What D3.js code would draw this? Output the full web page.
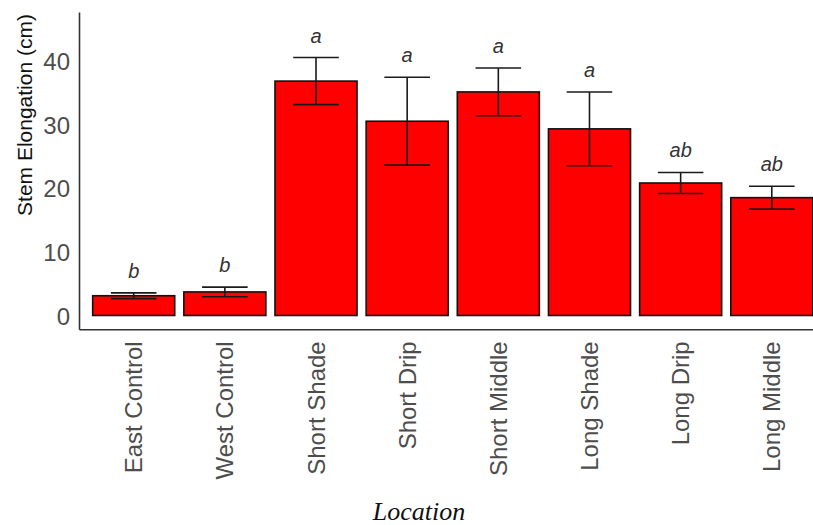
<!DOCTYPE html>
<html>
<head>
<meta charset="utf-8">
<script src="https://cdn.jsdelivr.net/npm/d3@7"></script>
<style>
    html, body { margin: 0; padding: 0; background: #fff; }
    svg { display: block; }
</style>
</head>
<body>
<svg id="chart" width="813" height="525"></svg>
<script>
// data
const locations = ['East Control', 'West Control', 'Short Shade', 'Short Drip',
    'Short Middle', 'Long Shade', 'Long Drip', 'Long Middle']
const meanElongation = [3.1, 3.7, 36.8, 30.5, 35.1, 29.3, 20.8, 18.5]
const seElongation = [0.45, 0.75, 3.7, 6.9, 3.75, 5.8, 1.65, 1.8]
const groupLetters = ['b', 'b', 'a', 'a', 'a', 'a', 'ab', 'ab']
const yTicks = [0, 10, 20, 30, 40]

const data = locations.map((loc, i) => ({
    location: loc,
    mean: meanElongation[i],
    se: seElongation[i],
    letter: groupLetters[i],
}))

const panelLeft = 79
const panelTop = 12
const panelBottom = 329.3
const panelRight = 826.5 // panel runs a little past the picture edge

const svg = d3.select('#chart')

const xScale = d3.scaleBand()
    .domain(locations)
    .range([panelLeft, panelRight])
    .paddingInner(0.1)
    .paddingOuter(0.15)

const yScale = d3.scaleLinear()
    .domain([-2.17, 47.65])
    .range([panelBottom, panelTop])

// bars
svg.append('g')
    .attr('class', 'data-container')
    .selectAll('rect.bar')
    .data(data)
    .join('rect')
    .attr('class', 'bar')
    .attr('x', (d) => xScale(d.location))
    .attr('width', xScale.bandwidth())
    .attr('y', (d) => yScale(d.mean))
    .attr('height', (d) => yScale(0) - yScale(d.mean))
    .attr('fill', '#ff0000')
    .attr('stroke', '#111')
    .attr('stroke-width', 1.6)

// error bars
const capHalf = xScale.step() * 0.25
const cx = (d) => xScale(d.location) + xScale.bandwidth() / 2

const errors = svg.append('g')
    .attr('class', 'error-container')
    .selectAll('g.err')
    .data(data)
    .join('g')
    .attr('class', 'err')
    .attr('stroke', '#1a1a1a')
    .attr('stroke-width', 1.6)
    .attr('fill', 'none')

errors.append('line')
    .attr('x1', cx)
    .attr('x2', cx)
    .attr('y1', (d) => yScale(d.mean + d.se))
    .attr('y2', (d) => yScale(d.mean - d.se))
errors.append('line')
    .attr('x1', (d) => cx(d) - capHalf)
    .attr('x2', (d) => cx(d) + capHalf)
    .attr('y1', (d) => yScale(d.mean + d.se))
    .attr('y2', (d) => yScale(d.mean + d.se))
errors.append('line')
    .attr('x1', (d) => cx(d) - capHalf)
    .attr('x2', (d) => cx(d) + capHalf)
    .attr('y1', (d) => yScale(d.mean - d.se))
    .attr('y2', (d) => yScale(d.mean - d.se))

// significance letters
svg.append('g')
    .attr('class', 'letter-container')
    .selectAll('text')
    .data(data)
    .join('text')
    .attr('x', cx)
    .attr('y', (d) => yScale(d.mean + d.se) - 15)
    .attr('text-anchor', 'middle')
    .attr('font-family', 'Liberation Sans, Arial, sans-serif')
    .attr('font-style', 'italic')
    .attr('font-size', 20)
    .attr('fill', '#333')
    .text((d) => d.letter)

// y axis
const yAxis = d3.axisLeft(yScale)
    .tickValues(yTicks)
    .tickSize(0)
    .tickPadding(9)
const yAxisContainer = svg.append('g')
    .attr('class', 'yAxis-container')
    .attr('transform', `translate(${panelLeft}, 0)`)
    .call(yAxis)
yAxisContainer.select('.domain')
    .attr('stroke', '#333')
    .attr('stroke-width', 1.6)
yAxisContainer.selectAll('.tick text')
    .attr('font-family', 'Liberation Sans, Arial, sans-serif')
    .attr('font-size', 24)
    .attr('fill', '#4d4d4d')
    .attr('dy', '0.36em')

// x axis
const xAxis = d3.axisBottom(xScale)
    .tickSize(0)
    .tickSizeOuter(0)
const xAxisContainer = svg.append('g')
    .attr('class', 'xAxis-container')
    .attr('transform', `translate(0, ${panelBottom})`)
    .call(xAxis)
xAxisContainer.select('.domain')
    .attr('stroke', '#333')
    .attr('stroke-width', 1.6)
xAxisContainer.selectAll('.tick text')
    .attr('font-family', 'Liberation Sans, Arial, sans-serif')
    .attr('font-size', 24)
    .attr('fill', '#4d4d4d')
    .attr('text-anchor', 'end')
    .attr('transform', 'rotate(-90)')
    .attr('x', -12)
    .attr('y', 0)
    .attr('dy', '0.36em')

// axis titles
svg.append('text')
    .attr('class', 'label')
    .attr('transform', 'translate(32, 115) rotate(-90)')
    .attr('text-anchor', 'middle')
    .attr('font-family', 'Liberation Sans, Arial, sans-serif')
    .attr('font-size', 21)
    .attr('fill', '#111')
    .text('Stem Elongation (cm)')

svg.append('text')
    .attr('class', 'label')
    .attr('x', 419)
    .attr('y', 520)
    .attr('text-anchor', 'middle')
    .attr('font-family', 'Liberation Serif, Times New Roman, serif')
    .attr('font-style', 'italic')
    .attr('font-size', 26)
    .attr('fill', '#111')
    .text('Location')
</script>
</body>
</html>
